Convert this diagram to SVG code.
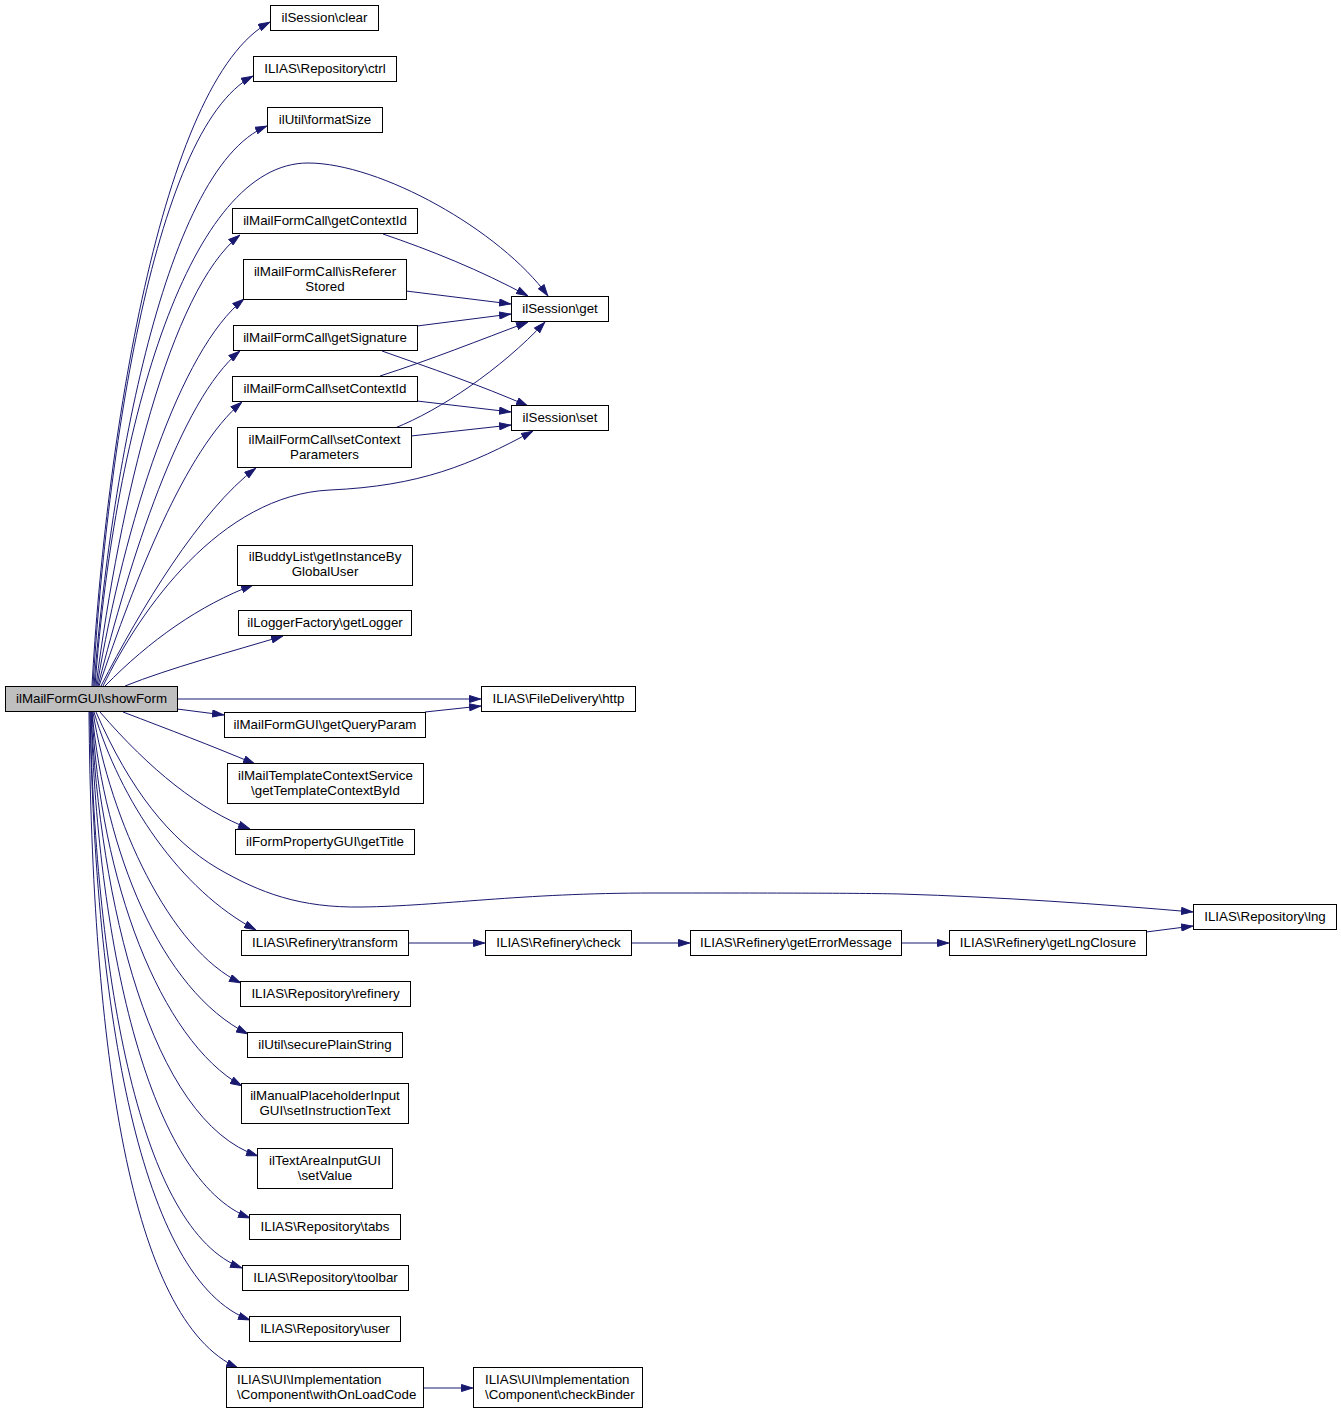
<svg xmlns="http://www.w3.org/2000/svg" width="1341" height="1414" viewBox="0 0 1341 1414">
<defs>
<marker id="arr" viewBox="0 0 12 8" refX="12" refY="4" markerWidth="12" markerHeight="8" markerUnits="userSpaceOnUse" orient="auto">
<path d="M0.5,0.5 L11.5,4 L0.5,7.5 z" fill="#191970" stroke="#191970"/>
</marker>
</defs>
<style>
.n rect{fill:#ffffff;stroke:#000000;stroke-width:1}
.n.main rect{fill:#bfbfbf}
.n text{font-family:"Liberation Sans",Arial,sans-serif;font-size:13.33px;fill:#000000;text-anchor:middle}
.n text.l{text-anchor:start}
#edges path{fill:none;stroke:#191970;stroke-width:1;marker-end:url(#arr)}
</style>
<rect x="0" y="0" width="1341" height="1414" fill="#ffffff"/>
<g id="edges">
<path d="M92,686 C105,450 160,80 270,22"/>
<path d="M93,686 C105,480 150,130 253,76"/>
<path d="M94,686 C108,500 160,170 267,126"/>
<path d="M95,686 C115,420 190,163 308,163 C380,163 500,230 548,296"/>
<path d="M96,686 C120,500 170,290 240,235"/>
<path d="M97,686 C125,520 180,350 244,299"/>
<path d="M98,686 C130,560 180,400 240,351"/>
<path d="M99,686 C135,580 185,450 242,402"/>
<path d="M101,686 C140,610 200,510 256,468"/>
<path d="M103,686 C140,610 220,495 330,490 C420,486 470,465 533,431"/>
<path d="M105,686 C150,640 200,605 253,585"/>
<path d="M125,686 C170,668 230,652 283,636"/>
<path d="M177,699 L481,699"/>
<path d="M177,709 L224,715"/>
<path d="M425,712 L481,706"/>
<path d="M123,712 C170,730 210,745 255,764"/>
<path d="M100,712 C150,770 200,810 250,829"/>
<path d="M96,712 C130,790 170,840 217,868 C260,893 300,908 362,907 C440,906 520,893 653,893 C760,893 860,893 900,894 C1000,897 1100,904 1193,912"/>
<path d="M94,712 C120,800 180,890 256,930"/>
<path d="M93,712 C110,820 170,950 241,983"/>
<path d="M92,712 C105,850 160,990 248,1034"/>
<path d="M92,712 C100,880 160,1040 242,1086"/>
<path d="M91,712 C100,900 150,1120 258,1156"/>
<path d="M91,712 C98,950 150,1180 250,1218"/>
<path d="M90,712 C96,980 140,1230 242,1268"/>
<path d="M90,712 C95,1010 140,1280 250,1320"/>
<path d="M89,712 C92,1050 130,1320 238,1368"/>
<path d="M408,943 L485,943"/>
<path d="M631,943 L690,943"/>
<path d="M901,943 L949,943"/>
<path d="M1146,932 L1193,926"/>
<path d="M423,1388 L473,1388"/>
<path d="M383,234 C430,250 480,270 528,296"/>
<path d="M406,291 L511,304"/>
<path d="M417,326 L511,314"/>
<path d="M380,376 C430,360 480,340 528,322"/>
<path d="M395,428 C440,410 500,370 545,322"/>
<path d="M382,351 C430,368 480,385 528,406"/>
<path d="M417,401 L511,412"/>
<path d="M411,436 L511,425"/>
</g>
<g id="n_clear" class="n"><rect x="270.5" y="5.5" width="108" height="25"/><text x="324.5" y="22">ilSession\clear</text></g>
<g id="n_ctrl" class="n"><rect x="253.5" y="56.5" width="143" height="25"/><text x="325" y="73">ILIAS\Repository\ctrl</text></g>
<g id="n_formatSize" class="n"><rect x="267.5" y="107.5" width="115" height="25"/><text x="325" y="124">ilUtil\formatSize</text></g>
<g id="n_getContextId" class="n"><rect x="232.5" y="208.5" width="185" height="25"/><text x="325" y="225">ilMailFormCall\getContextId</text></g>
<g id="n_isRefererStored" class="n"><rect x="243.5" y="259.5" width="163" height="40"/><text x="325" y="276">ilMailFormCall\isReferer</text><text x="325" y="291">Stored</text></g>
<g id="n_getSignature" class="n"><rect x="233.5" y="325.5" width="184" height="25"/><text x="325" y="342">ilMailFormCall\getSignature</text></g>
<g id="n_setContextId" class="n"><rect x="232.5" y="376.5" width="185" height="25"/><text x="325" y="393">ilMailFormCall\setContextId</text></g>
<g id="n_setContextParameters" class="n"><rect x="237.5" y="427.5" width="174" height="40"/><text x="324.5" y="444">ilMailFormCall\setContext</text><text x="324.5" y="459">Parameters</text></g>
<g id="n_get" class="n"><rect x="511.5" y="296.5" width="97" height="25"/><text x="560" y="313">ilSession\get</text></g>
<g id="n_set" class="n"><rect x="511.5" y="405.5" width="97" height="25"/><text x="560" y="422">ilSession\set</text></g>
<g id="n_getInstanceByGlobalUser" class="n"><rect x="237.5" y="545.5" width="175" height="40"/><text x="325" y="561">ilBuddyList\getInstanceBy</text><text x="325" y="576">GlobalUser</text></g>
<g id="n_getLogger" class="n"><rect x="238.5" y="610.5" width="173" height="25"/><text x="325" y="627">ilLoggerFactory\getLogger</text></g>
<g id="n_showForm" class="n main"><rect x="5.5" y="686.5" width="172" height="25"/><text x="91.5" y="703">ilMailFormGUI\showForm</text></g>
<g id="n_http" class="n"><rect x="481.5" y="686.5" width="154" height="25"/><text x="558.5" y="703">ILIAS\FileDelivery\http</text></g>
<g id="n_getQueryParam" class="n"><rect x="224.5" y="712.5" width="201" height="25"/><text x="325" y="729">ilMailFormGUI\getQueryParam</text></g>
<g id="n_getTemplateContextById" class="n"><rect x="227.5" y="763.5" width="196" height="40"/><text x="325.5" y="780">ilMailTemplateContextService</text><text x="325.5" y="795">\getTemplateContextById</text></g>
<g id="n_getTitle" class="n"><rect x="235.5" y="829.5" width="179" height="25"/><text x="325" y="846">ilFormPropertyGUI\getTitle</text></g>
<g id="n_lng" class="n"><rect x="1193.5" y="904.5" width="143" height="25"/><text x="1265" y="921">ILIAS\Repository\lng</text></g>
<g id="n_transform" class="n"><rect x="241.5" y="930.5" width="167" height="25"/><text x="325" y="947">ILIAS\Refinery\transform</text></g>
<g id="n_check" class="n"><rect x="485.5" y="930.5" width="146" height="25"/><text x="558.5" y="947">ILIAS\Refinery\check</text></g>
<g id="n_getErrorMessage" class="n"><rect x="690.5" y="930.5" width="211" height="25"/><text x="796" y="947">ILIAS\Refinery\getErrorMessage</text></g>
<g id="n_getLngClosure" class="n"><rect x="949.5" y="930.5" width="197" height="25"/><text x="1048" y="947">ILIAS\Refinery\getLngClosure</text></g>
<g id="n_refinery" class="n"><rect x="240.5" y="981.5" width="170" height="25"/><text x="325.5" y="998">ILIAS\Repository\refinery</text></g>
<g id="n_securePlainString" class="n"><rect x="247.5" y="1032.5" width="155" height="25"/><text x="325" y="1049">ilUtil\securePlainString</text></g>
<g id="n_setInstructionText" class="n"><rect x="241.5" y="1083.5" width="167" height="40"/><text x="325" y="1100">ilManualPlaceholderInput</text><text x="325" y="1115">GUI\setInstructionText</text></g>
<g id="n_setValue" class="n"><rect x="257.5" y="1148.5" width="135" height="40"/><text x="325" y="1165">ilTextAreaInputGUI</text><text x="325" y="1180">\setValue</text></g>
<g id="n_tabs" class="n"><rect x="249.5" y="1214.5" width="151" height="25"/><text x="325" y="1231">ILIAS\Repository\tabs</text></g>
<g id="n_toolbar" class="n"><rect x="242.5" y="1265.5" width="166" height="25"/><text x="325.5" y="1282">ILIAS\Repository\toolbar</text></g>
<g id="n_user" class="n"><rect x="249.5" y="1316.5" width="151" height="25"/><text x="325" y="1333">ILIAS\Repository\user</text></g>
<g id="n_withOnLoadCode" class="n"><rect x="226.5" y="1367.5" width="197" height="40"/><text class="l" x="237" y="1384">ILIAS\UI\Implementation</text><text class="l" x="237" y="1399">\Component\withOnLoadCode</text></g>
<g id="n_checkBinder" class="n"><rect x="473.5" y="1367.5" width="169" height="40"/><text class="l" x="485" y="1384">ILIAS\UI\Implementation</text><text class="l" x="485" y="1399">\Component\checkBinder</text></g>
</svg>
